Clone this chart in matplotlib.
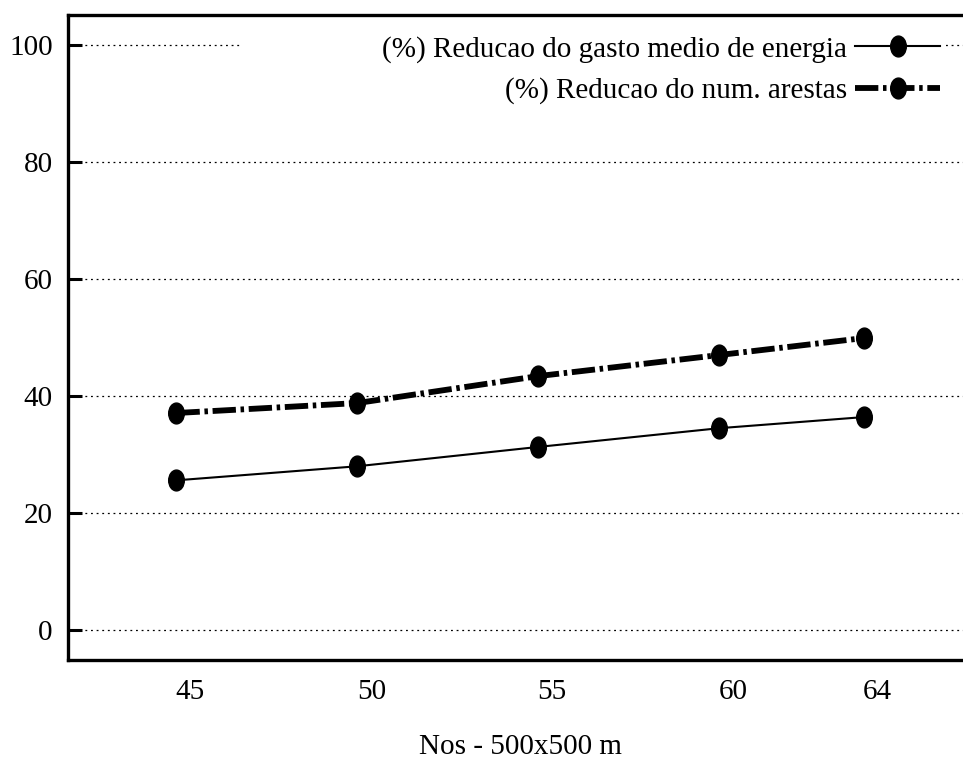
import matplotlib
matplotlib.use("Agg")
import matplotlib.pyplot as plt
from matplotlib.path import Path
from matplotlib.patches import Rectangle
from matplotlib.transforms import Affine2D, ScaledTranslation

# data
nodes = [45, 50, 55, 60, 64]
energy_reduction = [25.6, 28.0, 31.3, 34.5, 36.4]
edges_reduction = [37.1, 38.8, 43.4, 47.0, 49.9]
y_ticks = [0, 20, 40, 60, 80, 100]

label_energy = "(%) Reducao do gasto medio de energia"
label_edges = "(%) Reducao do num. arestas"
x_label = "Nos - 500x500 m"

plt.rcParams['font.family'] = ['Liberation Serif', 'DejaVu Serif']

# slightly tall ellipse, like the stretched gnuplot points
dot = Path.unit_circle().transformed(Affine2D().scale(0.75, 1.0))

fig = plt.figure(figsize=(9.63, 7.64), dpi=100)
ax = fig.add_axes([68 / 963, 1 - 660 / 764, 1 - 68 / 963, (660 - 15) / 764])

ax.set_xlim(42, 66.75)
ax.set_ylim(-5.1, 105.1)

# dotted grid, the top line is hidden behind the key box
for yv in y_ticks:
    ax.axhline(yv, color='black', lw=0.9, ls=(0, (1.5, 3)), zorder=1)
ax.add_patch(Rectangle((0.192, 0.93), 0.789, 0.045, transform=ax.transAxes,
                       facecolor='white', edgecolor='none', zorder=1.5))

ax.plot(nodes, energy_reduction, color='black', lw=1.5, marker=dot,
        markersize=15, label=label_energy, zorder=3)
ax.plot(nodes, edges_reduction, color='black', lw=4.2,
        ls=(0, (4.0, 0.8, 0.6, 0.8)), dash_capstyle='butt',
        marker=dot, markersize=15, label=label_edges, zorder=3)

ax.set_xticks(nodes)
ax.set_xticklabels([str(n) for n in nodes])
ax.set_yticks(y_ticks)
ax.tick_params(axis='x', length=0, pad=14, labelsize=21)
ax.tick_params(axis='y', direction='in', length=10, width=2.2, pad=11,
               labelsize=21)
# gnuplot put the x labels a bit right of the points
shift = ScaledTranslation(14 / 100, 0, fig.dpi_scale_trans)
for lbl in ax.get_xticklabels():
    lbl.set_transform(lbl.get_transform() + shift)

for side in ['top', 'bottom', 'left']:
    ax.spines[side].set_linewidth(2.4)
ax.spines['right'].set_visible(False)

ax.set_xlabel(x_label, fontsize=21, va='center')
ax.xaxis.set_label_coords((520 - 68) / 895, (660 - 747) / 645)

ax.legend(loc='upper right', bbox_to_anchor=((940 - 68) / 895, (660 - 36) / 645),
          borderaxespad=0, borderpad=0, frameon=False, markerfirst=False,
          numpoints=1, handlelength=2.9, handletextpad=0.3, labelspacing=0.5,
          fontsize=21)

fig.savefig("out.png", dpi=100)
